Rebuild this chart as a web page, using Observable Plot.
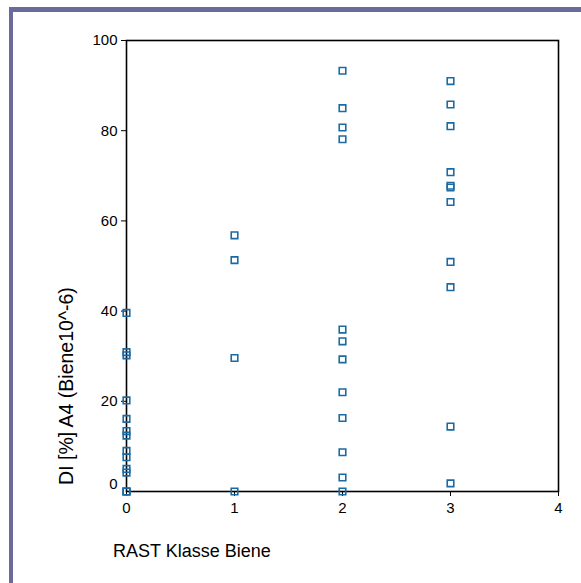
<!DOCTYPE html>
<html>
<head>
<meta charset="utf-8">
<script src="https://cdn.jsdelivr.net/npm/d3@7"></script>
<script src="https://cdn.jsdelivr.net/npm/@observablehq/plot@0.6"></script>
<style>
  html, body { margin: 0; padding: 0; background: #fff; }
  #wrap { position: relative; width: 581px; height: 583px; overflow: hidden; }
  #border { position: absolute; left: 9px; top: 7px; right: -10px; bottom: -10px;
            border-top: 5px solid #6a6a9c; border-left: 4px solid #6a6a9c; }
  #chart { position: absolute; left: 0; top: 0; }
</style>
</head>
<body>
<div id="wrap"><div id="border"></div><div id="chart"></div></div>
<script>
const klasse0 = [39.6, 30.9, 30.2, 20.2, 16.1, 13.4, 12.4, 9.0, 7.6, 5.0, 4.2, 0, 0, 0];
const klasse1 = [56.8, 51.3, 29.6, 0];
const klasse2 = [93.3, 85.0, 80.7, 78.1, 35.9, 33.3, 29.3, 22.0, 16.3, 8.7, 3.1, 0];
const klasse3 = [91.0, 85.8, 81.0, 70.8, 67.8, 67.4, 64.2, 50.9, 45.3, 14.4, 1.8];
const xTicks = [0, 1, 2, 3, 4];
const yTicks = [20, 40, 60, 80, 100];
const xLabel = "RAST Klasse Biene";
const yLabel = "DI [%] A4 (Biene10^-6)";

const data = [
  ...klasse0.map(v => ({k: 0, v})),
  ...klasse1.map(v => ({k: 1, v})),
  ...klasse2.map(v => ({k: 2, v})),
  ...klasse3.map(v => ({k: 3, v}))
];

const FONT = "'Liberation Sans', Arial, sans-serif";

const plot = Plot.plot({
  width: 581,
  height: 583,
  marginLeft: 126,
  marginRight: 23,
  marginTop: 40,
  marginBottom: 92,
  style: {fontFamily: FONT, fontSize: "15px", color: "#000", background: "transparent"},
  x: {domain: [0, 4]},
  y: {domain: [0, 100]},
  marks: [
    Plot.frame({stroke: "#000", strokeWidth: 1.6}),
    Plot.axisX({ticks: xTicks, tickFormat: d => String(d), tickSize: 5, tickPadding: 6, label: null, fontSize: 15}),
    Plot.axisY({ticks: yTicks, tickFormat: d => String(d), tickSize: 5, tickPadding: 4, label: null, fontSize: 15}),
    Plot.axisY({ticks: [0], tickFormat: d => String(d), tickSize: 0, tickPadding: 9, dy: -7.5, label: null, fontSize: 15}),
    Plot.dot(data, {x: "k", y: "v", symbol: "square", r: 3.7, stroke: "#1a6aa3", strokeWidth: 1.6, fill: "none"})
  ]
});
document.getElementById("chart").appendChild(plot);

const svg = d3.select(plot);
svg.append("text")
  .attr("transform", "translate(73,386) rotate(-90)")
  .attr("text-anchor", "middle")
  .style("font-family", FONT)
  .style("font-size", "19.5px")
  .attr("fill", "#000")
  .text(yLabel);
svg.append("text")
  .attr("x", 113)
  .attr("y", 557)
  .attr("text-anchor", "start")
  .style("font-family", FONT)
  .style("font-size", "18px")
  .attr("fill", "#000")
  .text(xLabel);
</script>
</body>
</html>
